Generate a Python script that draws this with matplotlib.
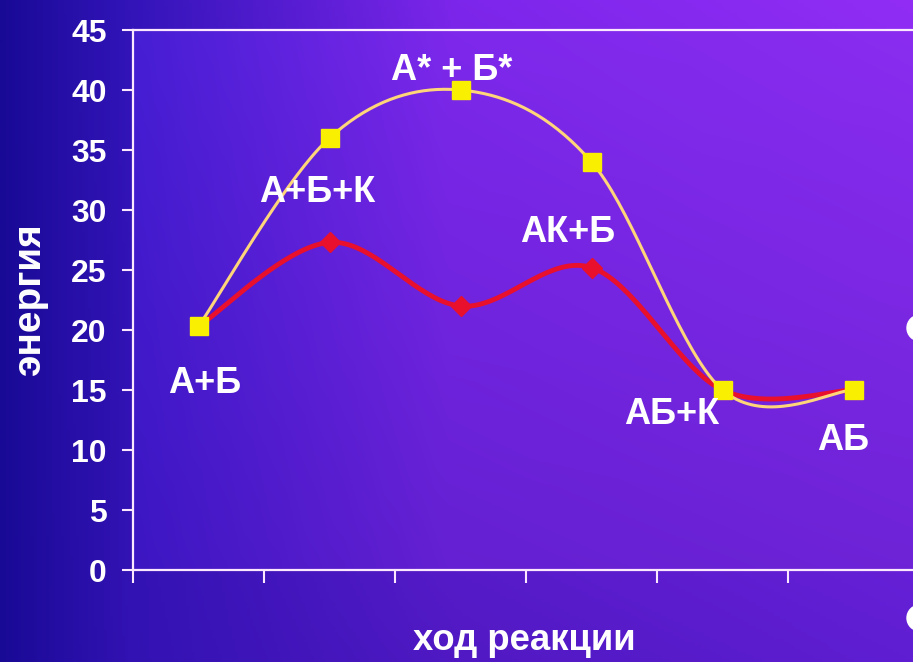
import numpy as np
import matplotlib.pyplot as plt
from matplotlib import font_manager as fm
from matplotlib.patches import Ellipse

# reaction profile: without catalyst (yellow) and with catalyst K (red)
stages = ['А+Б', 'А+Б+К', 'А* + Б*', 'АК+Б', 'АБ+К', 'АБ']
energy_plain = [20.3, 36, 40, 34, 15, 15]
energy_cat = [20.3, 27.3, 22, 25.2, 15, 15]
yticks = [0, 5, 10, 15, 20, 25, 30, 35, 40, 45]

# label offsets (pixels) from the yellow points
label_offsets = [(6, -57), (-12, -54), (-9, 19), (-24, -70), (-51, -25), (-10, -50)]

names = {f.name for f in fm.fontManager.ttflist}
NARROW = 'Liberation Sans Narrow' if 'Liberation Sans Narrow' in names else 'Liberation Sans'
narrow_scale = 1.0 if NARROW == 'Liberation Sans Narrow' else 0.82


def smooth(x, y, n=40):
    # Catmull-Rom style bezier smoothing, like spreadsheet "smoothed line"
    pts = np.column_stack([np.asarray(x, float), np.asarray(y, float)])
    out = []
    for i in range(len(pts) - 1):
        p0 = pts[max(i - 1, 0)]
        p1 = pts[i]
        p2 = pts[i + 1]
        p3 = pts[min(i + 2, len(pts) - 1)]
        c1 = p1 + (p2 - p0) / 6
        c2 = p2 - (p3 - p1) / 6
        t = np.linspace(0, 1, n)[:, None]
        seg = ((1 - t) ** 3) * p1 + 3 * ((1 - t) ** 2) * t * c1 + 3 * (1 - t) * t ** 2 * c2 + t ** 3 * p2
        out.append(seg if i == 0 else seg[1:])
    out = np.vstack(out)
    return out[:, 0], out[:, 1]


def gradient(w, h, xs, top_cols, bot_cols):
    gx = np.linspace(0, 1, w)
    rows = []
    for cols in (top_cols, bot_cols):
        cols = np.array(cols, float) / 255
        rows.append(np.column_stack([np.interp(gx, xs, cols[:, k]) for k in range(3)]))
    gy = np.linspace(0, 1, h)[:, None, None]
    img = rows[0][None] * (1 - gy) + rows[1][None] * gy
    return np.clip(img, 0, 1)


W, H = 913, 662
fig = plt.figure(figsize=(W / 100, H / 100), dpi=100)

# slide background
bg = fig.add_axes([0, 0, 1, 1])
bg.imshow(gradient(300, 200, [0, 0.14, 0.5, 1],
                   [(25, 10, 150), (50, 20, 185), (125, 38, 235), (145, 45, 245)],
                   [(25, 10, 150), (50, 18, 178), (80, 25, 195), (95, 30, 210)]),
          aspect='auto', extent=[0, 1, 0, 1])
bg.set_axis_off()

left, right = 133 / W, 919 / W
bottom, top = (H - 570) / H, (H - 30) / H
ax = fig.add_axes([left, bottom, right - left, top - bottom])
ax.patch.set_visible(False)
ax.set_xlim(-0.5, 5.5)
ax.set_ylim(0, 45)

# plot area fill
ax.imshow(gradient(300, 200, [0, 0.4, 1],
                   [(70, 30, 212), (125, 40, 235), (138, 45, 240)],
                   [(60, 22, 194), (100, 32, 210), (110, 35, 215)]),
          aspect='auto', extent=[-0.5, 5.5, 0, 45], zorder=0)

xi = np.arange(len(stages))
sx, sy = smooth(xi, energy_cat)
ax.plot(sx, sy, color='#e8102c', lw=3.5, zorder=3)
ax.plot(xi[1:4], energy_cat[1:4], linestyle='None', marker='D', ms=10,
        color='#e8102c', zorder=4)

sx, sy = smooth(xi, energy_plain)
ax.plot(sx, sy, color='#ffd57a', lw=2.2, zorder=5)
ax.plot(xi, energy_plain, linestyle='None', marker='s', ms=13,
        color='#f8f000', mec='#f8f000', zorder=6)

for i, name in enumerate(stages):
    ax.annotate(name, (xi[i], energy_plain[i]), xytext=label_offsets[i],
                textcoords='offset pixels', ha='center', va='center',
                color='white', fontsize=26, fontweight='bold',
                family='Liberation Sans', zorder=7)

for s in ['left', 'top', 'bottom']:
    ax.spines[s].set_color('#fbe8ff')
    ax.spines[s].set_linewidth(1.6)
ax.spines['right'].set_visible(False)

ax.set_xticks(np.arange(-0.5, 6, 1))
ax.set_xticklabels([])
ax.tick_params(axis='x', direction='out', length=9, width=1.5, color='#fbe8ff')
ax.set_yticks(yticks)
ax.set_yticklabels([str(v) for v in yticks])
ax.tick_params(axis='y', direction='out', length=8, width=1.5, color='#fbe8ff',
               labelcolor='white', pad=11, labelsize=28 * narrow_scale)
for lbl in ax.get_yticklabels():
    lbl.set_family(NARROW)
    lbl.set_fontweight('bold')

fig.text(30 / W, 1 - 300 / H, 'энергия', rotation=90, ha='center', va='center',
         color='white', fontsize=34 * narrow_scale, fontweight='bold', family=NARROW)
fig.text(524 / W, 1 - 640 / H, 'ход реакции', ha='center', va='center',
         color='white', fontsize=32 * narrow_scale, fontweight='bold', family=NARROW)

# slide bullets peeking in at the right edge
for yc in [328, 618]:
    fig.patches.append(Ellipse((920 / W, 1 - yc / H), 26 / W, 26 / H,
                               transform=fig.transFigure, color='white'))

fig.savefig('out.png', dpi=100)
